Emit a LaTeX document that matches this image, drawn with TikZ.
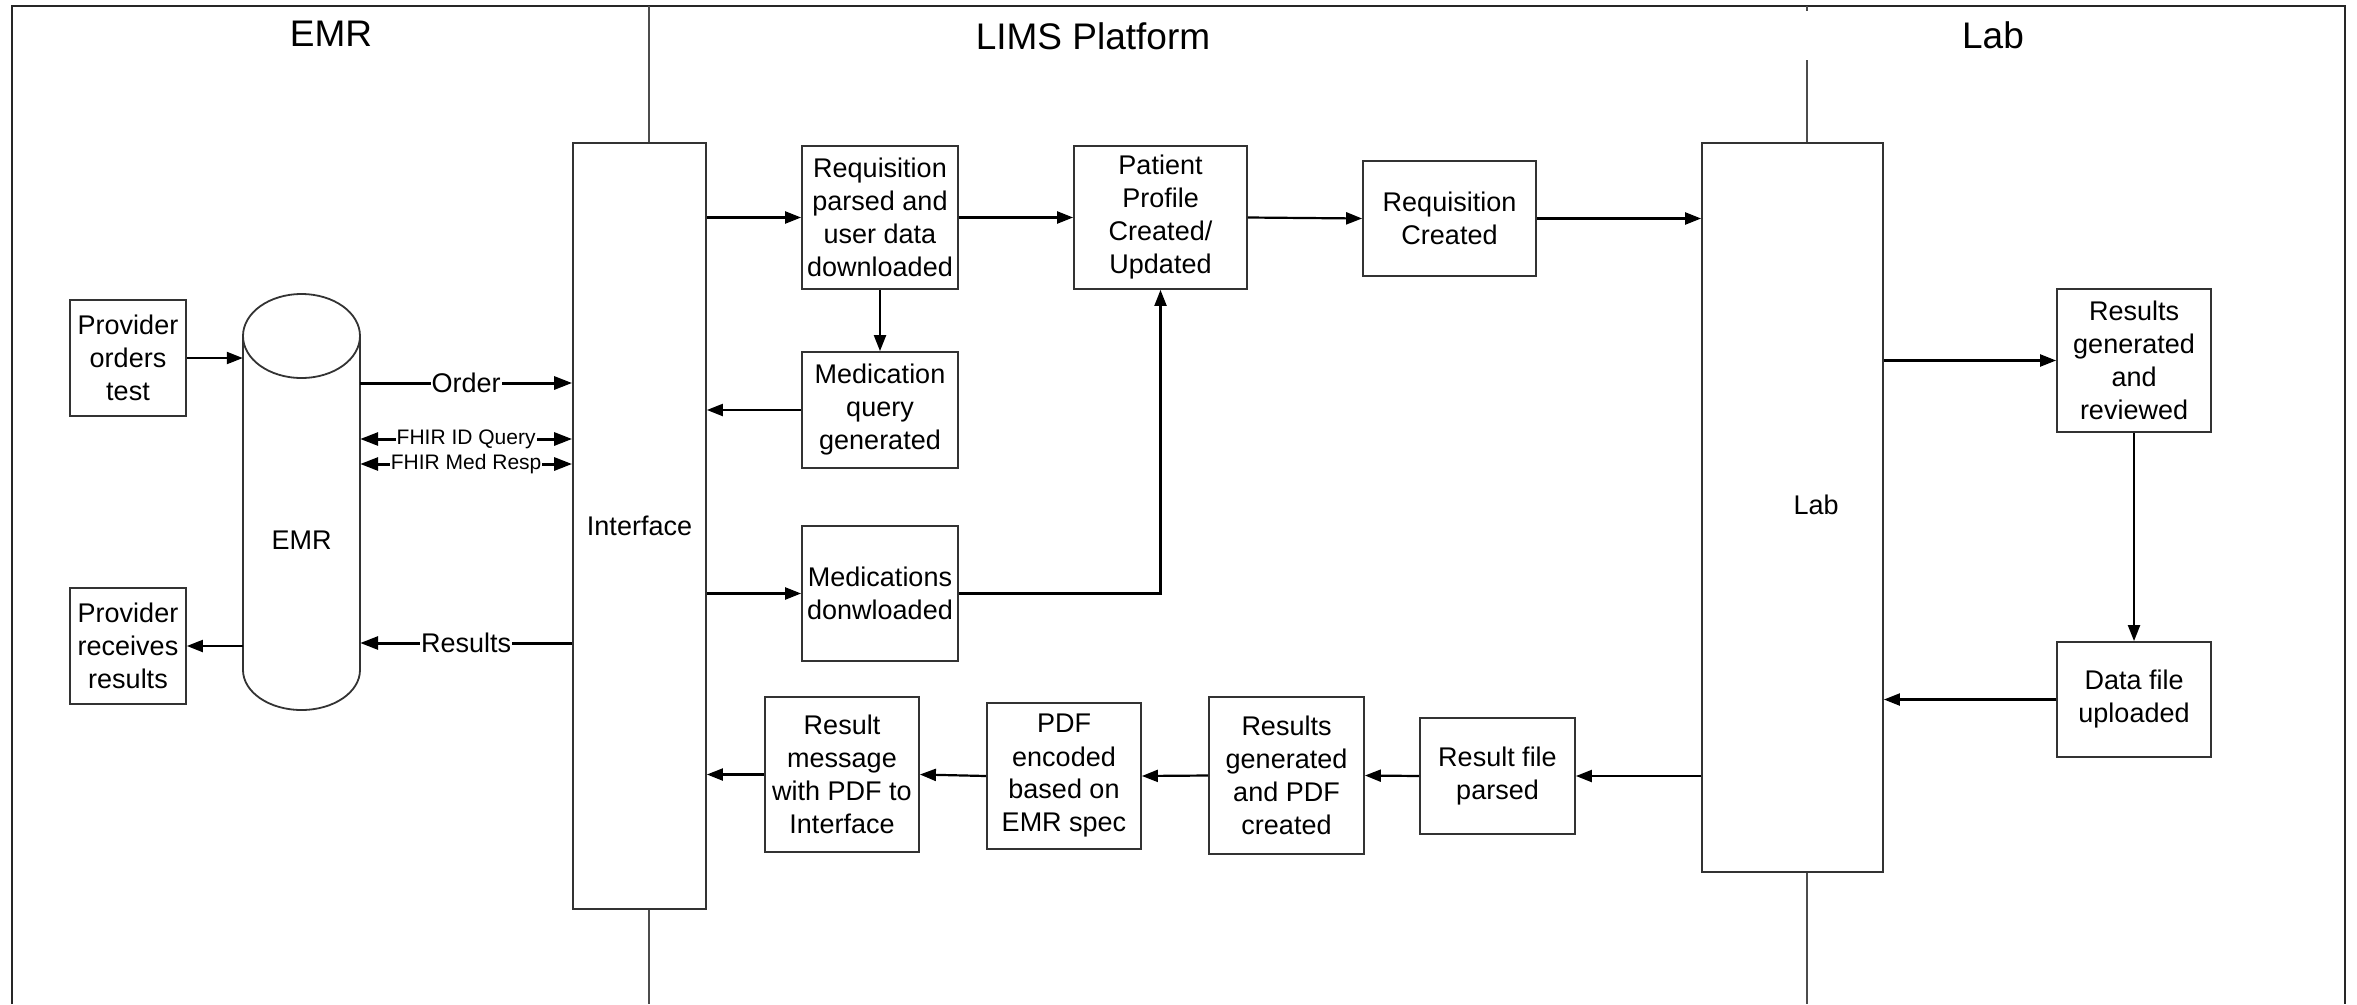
\documentclass[tikz,border=0pt]{standalone}
\usepackage{fontspec}
\setmainfont{Liberation Sans}
\usetikzlibrary{arrows.meta,calc}
\newcommand\bxfont{\fontsize{27}{33}\selectfont}
\newcommand\hdfont{\fontsize{37}{44}\selectfont}
\newcommand\smfont{\fontsize{21}{25}\selectfont}
\begin{document}
\begin{tikzpicture}[x=1pt,y=-1pt,
  box/.style={draw=black!80, line width=1.8pt, fill=white, align=center, inner sep=0pt, font=\bxfont},
  arr/.style={line width=2.2pt, -{Triangle[length=16pt,width=12pt]}},
  tarr/.style={line width=3pt, -{Triangle[length=18pt,width=13pt]}},
  tdarr/.style={line width=3pt, {Triangle[length=18pt,width=13pt]}-{Triangle[length=18pt,width=13pt]}},
  lbl/.style={fill=white, inner sep=1pt, font=\bxfont},
  slbl/.style={fill=white, inner sep=1pt, font=\smfont},
  hdr/.style={font=\hdfont, anchor=base, inner sep=0pt},
  frameline/.style={draw=black!85, line width=2pt},
  lane/.style={draw=black!70, line width=1.5pt}]

\useasboundingbox (0,0) rectangle (2357,1004);

% frame and lanes
\draw[frameline] (12,1004) -- (12,6) -- (2345,6) -- (2345,1004);
\draw[lane] (649,6) -- (649,1004);
\draw[lane] (1807,6) -- (1807,11);
\draw[lane] (1807,60) -- (1807,1004);

% headers
\node[hdr] (hemr) at (331,46) {EMR};
\node[hdr] (hlims) at (1093,49) {LIMS Platform};
\node[hdr] (hlab) at (1993,48) {Lab};

% EMR cylinder
\draw[draw=black!80, line width=1.8pt, fill=white]
  (243,336) -- (243,670) arc[start angle=180, end angle=0, x radius=58.5, y radius=40]
  -- (360,336) arc[start angle=0, end angle=-180, x radius=58.5, y radius=42] -- cycle;
\draw[draw=black!80, line width=1.8pt]
  (243,336) arc[start angle=180, end angle=0, x radius=58.5, y radius=42];
\node[minimum width=117pt, minimum height=334pt, inner sep=0pt] (emr) at (301.5,503) {};
\node[font=\bxfont, inner sep=0pt] (emrlbl) at (301.5,540) {EMR};

% boxes
\node[box, minimum width=116pt, minimum height=116pt] (pot) at (128,358) {Provider\\orders\\test};
\node[box, minimum width=116pt, minimum height=116pt] (prr) at (128,646) {Provider\\receives\\results};
\node[box, minimum width=133pt, minimum height=766pt] (iface) at (639.5,526) {Interface};
\node[box, minimum width=156pt, minimum height=143pt] (rpd) at (880,217.5) {Requisition\\parsed and\\user data\\downloaded};
\node[box, minimum width=173pt, minimum height=143pt] (ppc) at (1160.5,217.5) {Patient\\Profile\\Created/\\Updated};
\node[box, minimum width=156pt, minimum height=116pt] (mqg) at (880,410) {Medication\\query\\generated};
\node[box, minimum width=156pt, minimum height=135pt] (mdl) at (880,593.5) {Medications\\donwloaded};
\node[box, minimum width=173pt, minimum height=115pt] (rqc) at (1449.5,218.5) {Requisition\\Created};
\node[box, minimum width=181pt, minimum height=729pt] (lab) at (1792.5,507.5) {};
\node[font=\bxfont, inner sep=0pt] (lablbl) at (1816,505) {Lab};
\node[box, minimum width=154pt, minimum height=143pt] (rgr) at (2134,360.5) {Results\\generated\\and\\reviewed};
\node[box, minimum width=154pt, minimum height=115pt] (dfu) at (2134,699.5) {Data file\\uploaded};
\node[box, minimum width=154pt, minimum height=155pt] (rmp) at (842,774.5) {Result\\message\\with PDF to\\Interface};
\node[box, minimum width=154pt, minimum height=146pt] (pdf) at (1064,776) {PDF\\encoded\\based on\\EMR spec};
\node[box, minimum width=155pt, minimum height=157pt] (rgp) at (1286.5,775.5) {Results\\generated\\and PDF\\created};
\node[box, minimum width=155pt, minimum height=116pt] (rfp) at (1497.5,776) {Result file\\parsed};

% connectors EMR side
\draw[arr] (pot.east) -- (pot.east -| emr.west);
\draw[arr] (emr.west |- prr.east) -- (prr.east);
\draw[tarr] (emr.east |- 0,383) -- node[lbl]{Order} (iface.west |- 0,383);
\draw[tdarr] (emr.east |- 0,439) -- node[slbl]{FHIR ID Query} (iface.west |- 0,439);
\draw[tdarr] (emr.east |- 0,464) -- node[slbl]{FHIR Med Resp} (iface.west |- 0,464);
\draw[tarr] (iface.west |- 0,643) -- node[lbl]{Results} (emr.east |- 0,643);

% LIMS top flow
\draw[arr] (iface.east |- rpd.west) -- (rpd.west);
\draw[arr] (rpd.east) -- (ppc.west);
\draw[arr] (ppc.east) -- (rqc.west);
\draw[arr] (rqc.east) -- (lab.west |- rqc.east);
\draw[arr] (rpd.south) -- (mqg.north);
\draw[arr] (mqg.west) -- (iface.east |- mqg.west);
\draw[arr] (iface.east |- mdl.west) -- (mdl.west);
\draw[arr] (mdl.east) -| (ppc.south);

% Lab side
\draw[arr] (lab.east |- rgr.west) -- (rgr.west);
\draw[arr] (rgr.south) -- (dfu.north);
\draw[arr] (dfu.west) -- (lab.east |- dfu.west);

% bottom flow
\draw[arr] (lab.west |- rfp.east) -- (rfp.east);
\draw[arr] (rfp.west) -- (rgp.east);
\draw[arr] (rgp.west) -- (pdf.east);
\draw[arr] (pdf.west) -- (rmp.east);
\draw[arr] (rmp.west) -- (iface.east |- rmp.west);
\end{tikzpicture}
\end{document}
